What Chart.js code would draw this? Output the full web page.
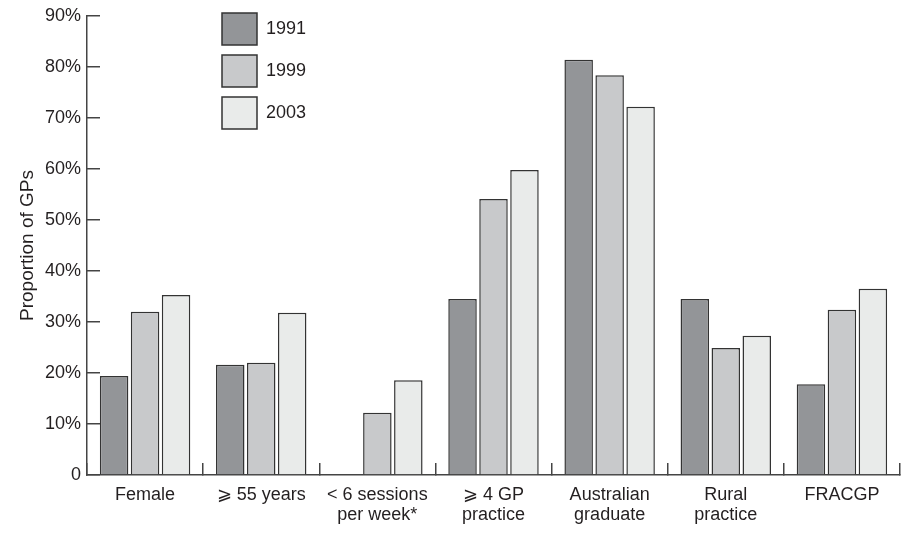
<!DOCTYPE html>
<html>
<head>
<meta charset="utf-8">
<script src="https://cdn.jsdelivr.net/npm/chart.js@4/dist/chart.umd.min.js"></script>
<style>
  body { margin: 0; background: #fff; }
  canvas { display: block; }
</style>
</head>
<body>
<canvas id="gpChart" width="915" height="542"></canvas>
<script>
const categories = ['Female', '⩾ 55 years', ['< 6 sessions', 'per week*'], ['⩾ 4 GP', 'practice'], ['Australian', 'graduate'], ['Rural', 'practice'], 'FRACGP'];
const years = ['1991', '1999', '2003'];
const values1991 = [19.4, 21.6, null, 34.5, 81.4, 34.5, 17.8];
const values1999 = [32.0, 22.0, 12.2, 54.1, 78.4, 24.9, 32.4];
const values2003 = [35.3, 31.8, 18.6, 59.8, 72.2, 27.3, 36.5];
const yTicks = [0, 10, 20, 30, 40, 50, 60, 70, 80, 90];

const fills = ['#939598', '#c8c9cb', '#e9ebea'];
const ink = '#231f20';
const fontFamily = '"Liberation Sans", Arial, sans-serif';

// move the legend into the empty space of the plot
const legendShift = {
    id: 'legendShift',
    afterLayout(chart) {
        chart.legend.left += 125;
        chart.legend.top += 3;
    }
};

new Chart(document.getElementById('gpChart'), {
    type: 'bar',
    data: {
        labels: categories,
        datasets: [values1991, values1999, values2003].map((vals, i) => ({
            label: years[i],
            data: vals,
            backgroundColor: fills[i],
            borderColor: '#333',
            borderWidth: 1.5,
            borderSkipped: 'bottom',
            categoryPercentage: 0.8,
            barPercentage: 0.92
        }))
    },
    options: {
        responsive: false,
        animation: false,
        layout: { padding: { left: 16, right: 15, top: 16, bottom: 0 } },
        plugins: {
            legend: {
                position: 'chartArea',
                align: 'start',
                labels: {
                    boxWidth: 35,
                    boxHeight: 32,
                    padding: 10,
                    color: ink,
                    font: { family: fontFamily, size: 18 }
                }
            },
            tooltip: { enabled: false }
        },
        scales: {
            x: {
                afterFit(scale) {
                    scale.height = 67;
                },
                border: { color: '#444', width: 1.5 },
                grid: { drawOnChartArea: false, tickLength: -12, color: '#444', lineWidth: 1.5 },
                ticks: {
                    color: ink,
                    padding: 22,
                    maxRotation: 0,
                    font: { family: fontFamily, size: 18, lineHeight: 1.1 }
                }
            },
            y: {
                min: 0,
                max: 90,
                afterBuildTicks(scale) {
                    scale.ticks = yTicks.map(v => ({ value: v }));
                },
                afterFit(scale) {
                    scale.width = 71;
                    scale.paddingTop = 0;
                    scale.paddingBottom = 0;
                },
                border: { color: '#444', width: 1.5 },
                grid: { drawOnChartArea: false, tickLength: -13, color: '#444', lineWidth: 1.5 },
                ticks: {
                    color: ink,
                    padding: 19,
                    font: { family: fontFamily, size: 18 },
                    callback: v => v === 0 ? '0' : v + '%'
                },
                title: {
                    display: true,
                    text: 'Proportion of GPs',
                    color: ink,
                    padding: { top: 0, bottom: 6 },
                    font: { family: fontFamily, size: 19 }
                }
            }
        }
    },
    plugins: [legendShift]
});
</script>
</body>
</html>
